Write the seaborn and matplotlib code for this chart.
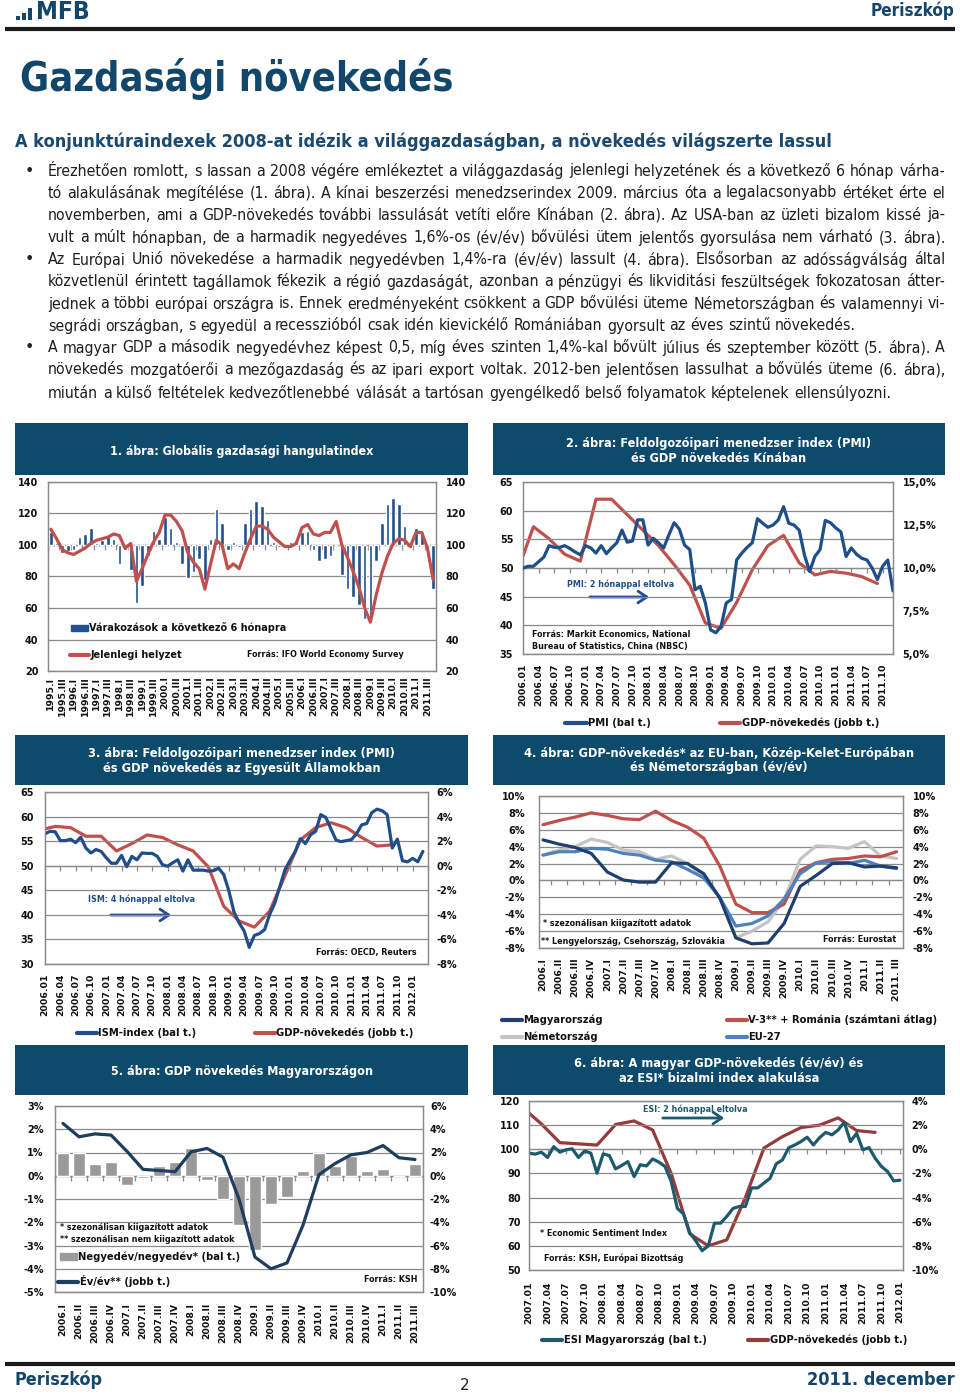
import numpy as np
import pandas as pd
import matplotlib
matplotlib.use("Agg")
import matplotlib.pyplot as plt
import seaborn as sns
from matplotlib import font_manager
from matplotlib.patches import Rectangle, Patch, FancyArrowPatch
from matplotlib.lines import Line2D

# ======================= DATA =======================
# Chart 1 – IFO world economic climate (quarterly 1995.I – 2011.IV)
c1_years = list(range(1995, 2012))
c1_quarters = ["I", "II", "III", "IV"]
c1_expect = [108, 101, 95, 96, 97, 105, 107, 111, 101, 103, 106, 104, 88, 97, 84, 63,
             74, 93, 109, 104, 118, 111, 102, 88, 79, 83, 91, 78, 104, 123, 114, 97,
             102, 99, 114, 123, 128, 125, 116, 102, 99, 100, 102, 101, 108, 109, 97, 90,
             91, 93, 100, 81, 72, 67, 62, 53, 53, 90, 114, 126, 130, 126, 112, 98,
             111, 108, 97, 72]
c1_present = [110, 104, 97, 95, 94, 96, 98, 101, 103, 104, 105, 107, 106, 98, 101, 77,
              85, 94, 102, 108, 119, 119, 115, 109, 95, 89, 85, 72, 88, 103, 100, 85,
              88, 85, 95, 104, 112, 112, 110, 105, 102, 99, 99, 101, 111, 113, 107, 106,
              108, 108, 115, 100, 92, 83, 73, 60, 51, 68, 82, 93, 101, 104, 103, 99,
              108, 108, 98, 78]

# Chart 2 – China PMI (monthly 2006.01 – 2011.12) and GDP (quarterly, placed at month index)
c2_years = list(range(2006, 2012))
c2_pmi = [50.0, 50.3, 50.3, 51.1, 51.9, 53.9, 53.6, 53.6, 53.9, 53.4,
          52.8, 52.3, 53.9, 53.5, 52.6, 53.9, 52.5, 53.5, 54.4, 56.6,
          54.5, 54.7, 58.4, 58.4, 54.0, 55.2, 54.4, 53.5, 55.8, 57.9,
          56.8, 54.0, 53.2, 46.2, 46.8, 43.9, 39.2, 38.7, 39.8, 43.9,
          44.5, 51.4, 52.6, 53.6, 54.4, 58.6, 57.8, 57.1, 57.5, 58.4,
          60.7, 57.8, 57.5, 56.6, 52.3, 49.4, 52.0, 53.2, 58.3, 57.9,
          57.0, 56.3, 52.0, 53.5, 52.4, 51.7, 51.4, 50.0, 48.0, 50.3,
          51.4, 46.0]
c2_gdp_month = [0, 2, 5, 8, 11, 14, 17, 20, 23, 26, 29, 32, 35, 38, 41, 44, 47, 50, 53, 56, 59, 62, 65, 68]
c2_gdp = [10.7, 12.4, 11.7, 10.8, 10.4, 14.0, 14.0, 13.1, 12.2, 11.3, 10.2, 9.0,
          6.8, 6.5, 8.0, 9.9, 11.3, 11.9, 10.3, 9.6, 9.8, 9.7, 9.5, 9.1]

# Chart 3 – US ISM (monthly 2006.01 – 2012.03) and GDP
c3_years = list(range(2006, 2013))
c3_ism = [56.5, 57.0, 56.9, 55.1, 55.1, 55.4, 54.7, 55.8, 53.6, 52.6,
          53.3, 52.9, 51.6, 50.5, 50.5, 52.1, 49.8, 51.9, 51.2, 52.6,
          52.5, 52.5, 51.9, 50.2, 49.9, 50.6, 51.2, 48.9, 51.2, 49.1,
          49.1, 49.1, 48.9, 49.0, 49.5, 48.2, 44.9, 40.6, 38.4, 36.7,
          33.4, 35.8, 36.2, 37.0, 40.1, 42.4, 45.8, 49.2, 51.1, 52.9,
          55.5, 54.5, 56.3, 57.0, 60.4, 59.8, 57.5, 55.2, 54.9, 55.1,
          55.3, 56.5, 58.3, 58.6, 60.8, 61.5, 61.2, 60.4, 53.6, 55.4,
          51.0, 50.8, 51.5, 50.8, 52.9]
c3_gdp_month = [0, 2, 5, 8, 11, 14, 17, 20, 23, 26, 29, 32, 35, 38, 41, 44, 47, 50, 53, 56, 59, 62, 65, 68]
c3_gdp = [3.0, 3.2, 3.1, 2.4, 2.4, 1.2, 1.8, 2.5, 2.3, 1.7, 1.2, -0.1,
          -3.3, -4.5, -5.0, -3.7, -0.8, 2.1, 3.1, 3.5, 3.1, 2.3, 1.6, 1.7]

# Chart 4 – GDP y/y, quarterly 2006.I – 2011.III
c4_labels = ["2006.I", "2006.II", "2006.III", "2006.IV", "2007.I", "2007.II", "2007.III", "2007.IV",
             "2008.I", "2008.II", "2008.III", "2008.IV", "2009.I", "2009.II", "2009.III", "2009.IV",
             "2010.I", "2010.II", "2010.III", "2010.IV", "2011.I", "2011.II", "2011. III"]
c4_hu = [4.8, 4.3, 3.9, 3.2, 1.0, 0.05, -0.2, -0.2, 2.1, 2.0, 0.8, -2.1,
         -6.8, -7.5, -7.4, -5.1, -0.7, 0.6, 2.0, 2.1, 1.6, 1.7, 1.5]
c4_v3 = [6.6, 7.1, 7.5, 8.0, 7.7, 7.3, 7.2, 8.2, 7.1, 6.3, 5.0, 1.7,
         -2.8, -3.8, -3.8, -2.8, 1.2, 2.1, 2.5, 2.6, 2.9, 2.8, 3.4]
c4_de = [3.0, 3.6, 4.0, 4.9, 4.5, 3.6, 3.4, 2.5, 2.9, 2.0, 0.5, -2.0,
         -6.8, -6.0, -4.9, -2.3, 2.5, 4.1, 4.0, 3.8, 4.6, 2.9, 2.6]
c4_eu = [3.0, 3.4, 3.4, 3.8, 3.7, 3.2, 3.0, 2.4, 2.2, 1.3, 0.3, -2.0,
         -5.4, -5.1, -4.2, -2.2, 0.8, 2.1, 2.2, 2.0, 2.4, 1.7, 1.4]

# Chart 5 – Hungarian GDP, quarterly 2006.I – 2011.III
c5_labels = ["2006.I", "2006.II", "2006.III", "2006.IV", "2007.I", "2007.II", "2007.III", "2007.IV",
             "2008.I", "2008.II", "2008.III", "2008.IV", "2009.I", "2009.II", "2009.III", "2009.IV",
             "2010.I", "2010.II", "2010.III", "2010.IV", "2011.I", "2011.II", "2011.III"]
c5_qoq = [1.0, 1.0, 0.5, 0.6, -0.4, -0.1, 0.4, 0.6, 1.2, -0.2, -1.0, -2.1,
          -3.2, -1.2, -0.9, 0.2, 1.0, 0.4, 0.85, 0.2, 0.3, 0.0, 0.5]
c5_yoy = [4.5, 3.35, 3.6, 3.5, 2.1, 0.55, 0.45, 0.35, 2.05, 2.35, 1.6, -2.0,
          -7.0, -8.0, -7.5, -4.25, 0.1, 1.05, 1.8, 2.0, 2.6, 1.55, 1.4]

# Chart 6 – ESI Hungary (monthly 2007.01 – 2012.01) and GDP y/y
c6_years = list(range(2007, 2013))
c6_esi = [98.4, 98.0, 98.8, 96.6, 101.1, 98.8, 99.8, 100.2, 96.6, 99.3,
          98.4, 90.1, 98.1, 97.4, 91.9, 93.3, 94.9, 88.7, 93.6, 93.1,
          96.0, 94.7, 92.9, 86.7, 75.5, 73.2, 65.5, 62.0, 58.0, 60.0,
          69.4, 69.4, 72.2, 75.5, 76.3, 76.3, 84.0, 84.0, 86.0, 88.0,
          94.0, 95.6, 100.6, 101.8, 103.2, 105.0, 101.8, 104.8, 107.0, 106.0,
          108.0, 111.2, 103.2, 106.6, 99.8, 100.7, 96.3, 92.9, 90.8, 86.9,
          87.2]
c6_gdp_month = [0, 2, 5, 8, 11, 14, 17, 20, 23, 26, 29, 32, 35, 38, 41, 44, 47, 50, 53, 56]
c6_gdp = [3.0, 2.1, 0.55, 0.45, 0.35, 2.05, 2.35, 1.6, -2.0, -7.0, -8.0, -7.5,
          -4.0, 0.1, 1.05, 1.8, 2.0, 2.6, 1.55, 1.4]

# Page text
page_title = "Gazdasági növekedés"
subtitle = "A konjunktúraindexek 2008-at idézik a világgazdaságban, a növekedés világszerte lassul"
body_lines = [
    "Érezhetően romlott, s lassan a 2008 végére emlékeztet a világgazdaság jelenlegi helyzetének és a következő 6 hónap várha-",
    "tó alakulásának megítélése (1. ábra). A kínai beszerzési menedzserindex 2009. március óta a legalacsonyabb értéket érte el",
    "novemberben, ami a GDP-növekedés további lassulását vetíti előre Kínában (2. ábra). Az USA-ban az üzleti bizalom kissé ja-",
    "vult a múlt hónapban, de a harmadik negyedéves 1,6%-os (év/év) bővülési ütem jelentős gyorsulása nem várható (3. ábra).",
    "Az Európai Unió növekedése a harmadik negyedévben 1,4%-ra (év/év) lassult (4. ábra). Elsősorban az adósságválság által",
    "közvetlenül érintett tagállamok fékezik a régió gazdaságát, azonban a pénzügyi és likviditási feszültségek fokozatosan átter-",
    "jednek a többi európai országra is. Ennek eredményeként csökkent a GDP bővülési üteme Németországban és valamennyi vi-",
    "segrádi országban, s egyedül a recesszióból csak idén kievickélő Romániában gyorsult az éves szintű növekedés.",
    "A magyar GDP a második negyedévhez képest 0,5, míg éves szinten 1,4%-kal bővült július és szeptember között (5. ábra). A",
    "növekedés mozgatóerői a mezőgazdaság és az ipari export voltak. 2012-ben jelentősen lassulhat a bővülés üteme (6. ábra),",
    "miután a külső feltételek kedvezőtlenebbé válását a tartósan gyengélkedő belső folyamatok képtelenek ellensúlyozni.",
]
body_justify = [True, True, True, True, True, True, True, False, True, True, False]
body_bullet = [True, False, False, False, True, False, False, False, True, False, False]

# ======================= STYLE =======================
sns.set_style("white")
plt.rcParams['font.family'] = ['DejaVu Sans']
plt.rcParams['xtick.color'] = '#111111'
plt.rcParams['ytick.color'] = '#111111'
plt.rcParams['text.color'] = '#111111'

ttf = font_manager.fontManager.ttflist
names = {f.name for f in ttf}
has_cond = any('DejaVuSansCondensed' in f.fname for f in ttf)
if has_cond:
    COND = dict(family='DejaVu Sans', stretch='condensed')
else:
    COND = dict(family='Liberation Sans' if 'Liberation Sans' in names else 'DejaVu Sans')

W, H = 960, 1394
fig = plt.figure(figsize=(W / 100, H / 100), dpi=100)
renderer = fig.canvas.get_renderer()

TEAL = '#12476B'
BOX = '#0E4A6B'
GRID = '#8A8A8A'
TFS = 7.0      # tick font size
XFS = 6.7      # rotated label size


def fx(x):
    return x / W


def fy(y):
    return 1 - y / H


def width_of(t):
    return t.get_window_extent(renderer=renderer).width


def fit_text(x, y, s, target_w, size=10, **kw):
    t = fig.text(fx(x), fy(y), s, fontsize=size, **kw)
    w = width_of(t)
    t.set_fontsize(size * target_w / w)
    return t


def ftext(x, y, s, size=6, weight='bold', color='#111111', ha='left', va='center', **kw):
    return fig.text(fx(x), fy(y), s, fontsize=size, fontweight=weight, color=color,
                    ha=ha, va=va, **kw)


def hline_fig(x0, x1, y, lw, color='#1a1a1a'):
    fig.add_artist(Line2D([fx(x0), fx(x1)], [fy(y), fy(y)], transform=fig.transFigure,
                          color=color, lw=lw, solid_capstyle='butt'))


def arrow(x0, x1, y, color):
    fig.add_artist(FancyArrowPatch((fx(x0), fy(y)), (fx(x1), fy(y)), transform=fig.transFigure,
                                   arrowstyle='->,head_length=0.45,head_width=0.3',
                                   mutation_scale=14, color=color, lw=2.0))


def legend_entry(x, y, handle, label, fs=7.2, hl=2.0):
    fig.legend([handle], [label], loc='center left', bbox_to_anchor=(fx(x), fy(y)),
               frameon=False, prop={'weight': 'bold', 'size': fs}, handlelength=hl,
               handletextpad=0.15, borderpad=0, borderaxespad=0)


def title_box(x0, y0, x1, y1, lines, ys, w_first):
    fig.add_artist(Rectangle((fx(x0), fy(y1)), (x1 - x0) / W, (y1 - y0) / H,
                             transform=fig.transFigure, facecolor=BOX, edgecolor='none', zorder=0))
    cx = (x0 + x1) / 2
    t = fit_text(cx, ys[0], lines[0], w_first, size=9, color='white', fontweight='bold',
                 ha='center', va='center', **COND)
    fs = t.get_fontsize()
    for s, yy in zip(lines[1:], ys[1:]):
        fig.text(fx(cx), fy(yy), s, fontsize=fs, color='white', fontweight='bold',
                 ha='center', va='center', **COND)


def make_axes(box, ylim, yticks, ylabels, lpad, rylim, ryticks, rylabels, rpad):
    x0, y0, x1, y1 = box
    ax = fig.add_axes([fx(x0), fy(y1), (x1 - x0) / W, (y1 - y0) / H])
    ax2 = ax.twinx()
    for a, lim, tk, lb, pd_ in ((ax, ylim, yticks, ylabels, lpad), (ax2, rylim, ryticks, rylabels, rpad)):
        a.set_ylim(*lim)
        a.set_yticks(tk)
        a.set_yticklabels(lb, fontsize=TFS, fontweight='bold')
        a.tick_params(axis='y', length=0, pad=pd_)
        for s in a.spines.values():
            s.set_color(GRID)
            s.set_linewidth(0.9)
    ax.yaxis.grid(True, color=GRID, lw=0.9)
    ax.set_axisbelow(True)
    ax2.grid(False)
    return ax, ax2


def finish(ax, ax2, xlim, xticks, xlabels, xpad, cross_frac, cross_ticks):
    for a in (ax, ax2):
        a.set_xlim(*xlim)
        a.set_xlabel('')
        a.set_ylabel('')
    ax.set_xticks(xticks)
    ax.set_xticklabels(xlabels, rotation=90, fontsize=XFS, fontweight='bold')
    ax.tick_params(axis='x', length=0, pad=xpad)
    ax.xaxis.grid(False)
    sec = ax.secondary_xaxis(cross_frac)
    sec.set_alignment('bottom')
    sec.set_ticks(cross_ticks)
    sec.tick_params(axis='x', length=3.5, width=0.9, color=GRID, direction='out',
                    labelbottom=False, labeltop=False)
    for s in sec.spines.values():
        s.set_color(GRID)
        s.set_linewidth(0.9)


# ======================= HEADER =======================
for i, hgt in enumerate([4, 7, 12]):
    fig.add_artist(Rectangle((fx(16 + i * 6), fy(20)), 3.5 / W, hgt / H, transform=fig.transFigure,
                             facecolor=TEAL, edgecolor='none'))
fit_text(36, 12, "MFB", 54, size=14, color=TEAL, fontweight='bold', ha='left', va='center', **COND)
fit_text(955, 11, "Periszkóp", 84, size=12, color=TEAL, fontweight='bold', ha='right', va='center', **COND)
hline_fig(5, 955, 28.5, 3.0)

fit_text(20, 79, page_title, 433, size=30, color=TEAL, fontweight='bold', ha='left', va='center', **COND)
fit_text(15, 142, subtitle, 813, size=12, color='#1B4A6E', fontweight='bold', ha='left', va='center', **COND)

# ---- body text (justified) ----
BX0, BX1 = 48, 945
body_y = [171, 193, 215, 238, 260, 282, 304, 326, 348, 370, 393]
base = 10.0
nat = []
for s in body_lines:
    t = fig.text(0, 0, s, fontsize=base, **COND)
    nat.append(width_of(t))
    t.remove()
fs_last = base * 0.5 * ((860 - BX0) / nat[7] + (893 - BX0) / nat[10])
fs_fit = base * (BX1 - BX0) / max(n for n, j in zip(nat, body_justify) if j)
body_fs = min(fs_last * 1.03, fs_fit)
tmp = fig.text(0, 0, "x x", fontsize=body_fs, **COND)
tmp2 = fig.text(0, 0, "xx", fontsize=body_fs, **COND)
space_w = width_of(tmp) - width_of(tmp2)
tmp.remove()
tmp2.remove()
for s, yy, just, bul in zip(body_lines, body_y, body_justify, body_bullet):
    words = s.split(' ')
    arts = [fig.text(0, fy(yy), w, fontsize=body_fs, color='#1e1e1e', ha='left', va='center', **COND)
            for w in words]
    widths = [width_of(a) for a in arts]
    gap = (BX1 - BX0 - sum(widths)) / (len(words) - 1) if just else space_w
    xx = BX0
    for a, w in zip(arts, widths):
        a.set_x(fx(xx))
        xx += w + gap
    if bul:
        fig.text(fx(25), fy(yy), "•", fontsize=body_fs, color='#1e1e1e', ha='left', va='center',
                 family='DejaVu Sans')

# ======================= CHART 1 =======================
title_box(15, 423, 468, 475, ["1. ábra: Globális gazdasági hangulatindex"], [451], 268)
ax, ax2 = make_axes((48, 482, 436, 671), (20, 140), list(range(20, 141, 20)),
                    [str(v) for v in range(20, 141, 20)], 7,
                    (20, 140), list(range(20, 141, 20)), [str(v) for v in range(20, 141, 20)], 7)
c1_cats = [f"{y}.{q}" for y in c1_years for q in c1_quarters]
c1_x = np.arange(len(c1_cats))
bars1 = ax.bar(c1_x, np.array(c1_expect) - 100, bottom=100, width=0.62, color='#21508F', zorder=2)
sns.lineplot(x=c1_x, y=c1_present, ax=ax, color='#C0504D', linewidth=2.3, zorder=3)
finish(ax, ax2, (-0.5, len(c1_cats) - 0.5), c1_x[::2], c1_cats[::2], 4,
       (100 - 20) / 120, np.arange(-0.5, len(c1_cats), 2))
legend_entry(71, 628, Patch(color='#21508F'), "Várakozások a következő 6 hónapra", fs=7.0, hl=1.75)
legend_entry(70, 655, Line2D([], [], color='#C0504D', lw=3), "Jelenlegi helyzet", fs=7.0, hl=2.0)
ftext(247, 654, "Forrás: IFO World Economy Survey", size=5.8)

# ======================= CHART 2 =======================
title_box(493, 423, 945, 475, ["2. ábra: Feldolgozóipari menedzser index (PMI)", "és GDP növekedés Kínában"],
          [443, 458], 306)
ax, ax2 = make_axes((523, 482, 893, 654), (35, 65), list(range(35, 66, 5)),
                    [str(v) for v in range(35, 66, 5)], 7,
                    (5, 15), [5, 7.5, 10, 12.5, 15], ["5,0%", "7,5%", "10,0%", "12,5%", "15,0%"], 7)
c2_months = [f"{y}.{m:02d}" for y in c2_years for m in range(1, 13)]
c2_x = np.arange(len(c2_months))
sns.lineplot(x=c2_gdp_month, y=c2_gdp, ax=ax2, color='#C0504D', linewidth=2.3)
sns.lineplot(x=c2_x, y=c2_pmi, ax=ax, color='#1F4E89', linewidth=2.3, zorder=3)
ax.set_zorder(ax2.get_zorder() + 1)
ax.patch.set_visible(False)
finish(ax, ax2, (0, len(c2_months) - 1), c2_x[::3], c2_months[::3], 7, 0.5, c2_x[::3])
ftext(567, 584, "PMI: 2 hónappal eltolva", size=5.8, color='#1F4E89')
arrow(587, 652, 597, '#1F4E89')
ftext(532, 635, "Forrás: Markit Economics, National", size=5.8)
ftext(532, 646, "Bureau of Statistics, China (NBSC)", size=5.8)
legend_entry(565, 723, Line2D([], [], color='#1F4E89', lw=3), "PMI (bal t.)", fs=7.2, hl=2.2)
legend_entry(720, 723, Line2D([], [], color='#C0504D', lw=3), "GDP-növekedés (jobb t.)", fs=7.2, hl=2.0)

# ======================= CHART 3 =======================
title_box(15, 735, 468, 785, ["3. ábra: Feldolgozóipari menedzser index (PMI)",
                              "és GDP növekedés az Egyesült Államokban"], [753, 768], 307)
ax, ax2 = make_axes((45, 792, 428, 964), (30, 65), list(range(30, 66, 5)),
                    [str(v) for v in range(30, 66, 5)], 8,
                    (-8, 6), list(range(-8, 7, 2)), [f"{v}%" for v in range(-8, 7, 2)], 6)
c3_months = [f"{y}.{m:02d}" for y in c3_years for m in range(1, 13)][:76]
c3_x = np.arange(len(c3_months))
sns.lineplot(x=c3_gdp_month, y=c3_gdp, ax=ax2, color='#C0504D', linewidth=2.3)
sns.lineplot(x=np.arange(len(c3_ism)), y=c3_ism, ax=ax, color='#1F4E89', linewidth=2.3)
ax.set_zorder(ax2.get_zorder() + 1)
ax.patch.set_visible(False)
finish(ax, ax2, (0, len(c3_months) - 1), c3_x[:73:3], c3_months[:73:3], 7, 8 / 14, c3_x[::3])
ftext(88, 899, "ISM: 4 hónappal eltolva", size=5.8, color='#1F4E89')
arrow(108, 174, 915, '#1F4E89')
ftext(417, 952, "Forrás: OECD, Reuters", size=5.8, ha='right')
legend_entry(77, 1033, Line2D([], [], color='#1F4E89', lw=3), "ISM-index (bal t.)", fs=7.2, hl=2.0)
legend_entry(255, 1033, Line2D([], [], color='#C0504D', lw=3), "GDP-növekedés (jobb t.)", fs=7.2, hl=2.0)

# ======================= CHART 4 =======================
title_box(493, 735, 945, 785, ["4. ábra: GDP-növekedés* az EU-ban, Közép-Kelet-Európában",
                               "és Németországban (év/év)"], [753, 768], 392)
pct = list(range(-8, 11, 2))
ax, ax2 = make_axes((539, 796, 903, 948), (-8, 10), pct, [f"{v}%" for v in pct], 10,
                    (-8, 10), pct, [f"{v}%" for v in pct], 7)
c4_x = np.arange(len(c4_labels))
df4 = pd.DataFrame({'x': c4_x, 'hu': c4_hu, 'v3': c4_v3, 'de': c4_de, 'eu': c4_eu})
sns.lineplot(data=df4, x='x', y='de', ax=ax, color='#C4C4C4', linewidth=2.3)
sns.lineplot(data=df4, x='x', y='v3', ax=ax, color='#C0504D', linewidth=2.3)
sns.lineplot(data=df4, x='x', y='eu', ax=ax, color='#4F81BD', linewidth=2.3)
sns.lineplot(data=df4, x='x', y='hu', ax=ax, color='#1F3F6E', linewidth=2.3)
finish(ax, ax2, (-0.25, 22.4), c4_x, c4_labels, 7, 8 / 18, np.arange(0.5, 22, 1))
ftext(543, 924, "* szezonálisan kiigazított adatok", size=5.8)
ftext(541, 941, "** Lengyelország, Csehország, Szlovákia", size=5.8)
ftext(896, 939, "Forrás: Eurostat", size=5.8, ha='right')
legend_entry(502, 1020, Line2D([], [], color='#1F3F6E', lw=3), "Magyarország", fs=7.2, hl=2.0)
legend_entry(727, 1020, Line2D([], [], color='#C0504D', lw=3), "V-3** + Románia (számtani átlag)", fs=7.2, hl=2.0)
legend_entry(502, 1037, Line2D([], [], color='#C4C4C4', lw=3), "Németország", fs=7.2, hl=2.0)
legend_entry(727, 1037, Line2D([], [], color='#4F81BD', lw=3), "EU-27", fs=7.2, hl=2.0)

# ======================= CHART 5 =======================
title_box(15, 1045, 468, 1095, ["5. ábra: GDP növekedés Magyarországon"], [1071], 263)
lp = list(range(-5, 4))
rp = list(range(-10, 7, 2))
ax, ax2 = make_axes((55, 1106, 423, 1292), (-5, 3), lp, [f"{v}%" for v in lp], 8,
                    (-10, 6), rp, [f"{v}%" for v in rp], 5)
c5_x = np.arange(len(c5_labels))
sns.barplot(x=c5_x, y=c5_qoq, ax=ax, color='#9A9A9A', saturation=1, width=0.73, errorbar=None)
sns.lineplot(x=c5_x, y=c5_yoy, ax=ax2, color='#1D3E5E', linewidth=2.3)
ax.set_ylim(-5, 3)
finish(ax, ax2, (-0.5, 22.5), c5_x, c5_labels, 8, 5 / 8, np.arange(-0.5, 23, 1))
ftext(60, 1228, "* szezonálisan kiigazított adatok", size=5.8)
ftext(60, 1239, "** szezonálisan nem kiigazított adatok", size=5.8)
legend_entry(60, 1257, Patch(color='#9A9A9A'), "Negyedév/negyedév* (bal t.)", fs=7.2, hl=1.7)
legend_entry(58, 1281, Line2D([], [], color='#1D3E5E', lw=3), "Év/év** (jobb t.)", fs=7.2, hl=2.0)
ftext(417, 1280, "Forrás: KSH", size=5.8, ha='right')

# ======================= CHART 6 =======================
title_box(493, 1045, 945, 1095, ["6. ábra: A magyar GDP-növekedés (év/év) és",
                                 "az ESI* bizalmi index alakulása"], [1063, 1078], 289)
lp6 = list(range(50, 121, 10))
rp6 = list(range(-10, 5, 2))
ax, ax2 = make_axes((529, 1101, 903, 1270), (50, 120), lp6, [str(v) for v in lp6], 6,
                    (-10, 4), rp6, [f"{v}%" for v in rp6], 6)
c6_months = [f"{y}.{m:02d}" for y in c6_years for m in range(1, 13)][:61]
c6_x = np.arange(len(c6_months))
sns.lineplot(x=c6_gdp_month, y=c6_gdp, ax=ax2, color='#953B39', linewidth=2.3)
sns.lineplot(x=c6_x, y=c6_esi, ax=ax, color='#1E5A6E', linewidth=2.3)
ax.set_zorder(ax2.get_zorder() + 1)
ax.patch.set_visible(False)
finish(ax, ax2, (0, 60.5), c6_x[::3], c6_months[::3], 8, 50 / 70, c6_x[::3])
ftext(643, 1109, "ESI: 2 hónappal eltolva", size=5.8, color='#1E5A6E')
arrow(660, 727, 1118, '#1E5A6E')
ftext(540, 1234, "* Economic Sentiment Index", size=5.8)
ftext(544, 1258, "Forrás: KSH, Európai Bizottság", size=5.8)
legend_entry(542, 1340, Line2D([], [], color='#1E5A6E', lw=3), "ESI Magyarország (bal t.)", fs=7.2, hl=2.0)
legend_entry(748, 1340, Line2D([], [], color='#953B39', lw=3), "GDP-növekedés (jobb t.)", fs=7.2, hl=2.0)

# ======================= FOOTER =======================
hline_fig(5, 955, 1364, 3.0)
fit_text(15, 1380, "Periszkóp", 88, size=12, color=TEAL, fontweight='bold', ha='left', va='center', **COND)
ftext(465, 1385, "2", size=11, weight='normal', ha='center', color='#1e1e1e')
fit_text(955, 1380, "2011. december", 147, size=12, color=TEAL, fontweight='bold', ha='right', va='center', **COND)

fig.savefig("out.png", dpi=100)
